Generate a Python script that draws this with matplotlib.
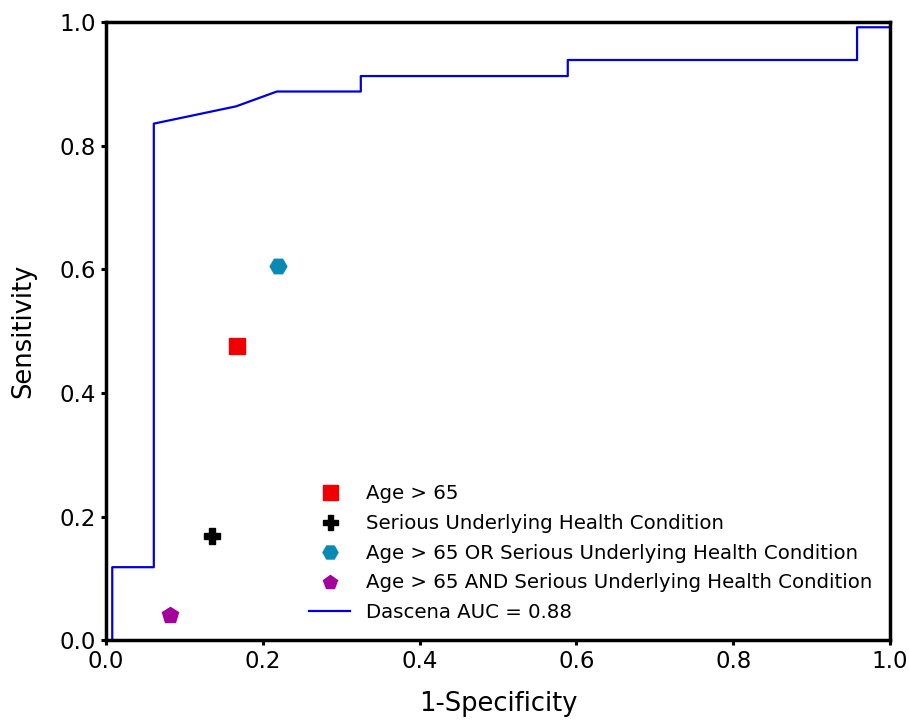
import matplotlib
matplotlib.use("Agg")
import matplotlib.pyplot as plt

# ROC curve of the Dascena model
roc_fpr = [0.008, 0.008, 0.061, 0.061, 0.166, 0.218, 0.325, 0.325, 0.589, 0.589, 0.958, 0.958, 1.0]
roc_tpr = [0.0, 0.118, 0.118, 0.836, 0.864, 0.888, 0.888, 0.913, 0.913, 0.939, 0.939, 0.992, 0.992]

# single-rule operating points
rule_names = ["Age > 65",
              "Serious Underlying Health Condition",
              "Age > 65 OR Serious Underlying Health Condition",
              "Age > 65 AND Serious Underlying Health Condition"]
rule_fpr = [0.167, 0.135, 0.219, 0.082]
rule_tpr = [0.476, 0.168, 0.605, 0.040]
rule_marker = ["s", "P", "H", "p"]
rule_color = ["#f00000", "#000000", "#0a8ab2", "#a4009c"]

fig = plt.figure(figsize=(9.09, 7.2), dpi=100)
ax = fig.add_axes([0.1166, 0.111, 0.8625, 0.858])

for name, x, y, m, c in zip(rule_names, rule_fpr, rule_tpr, rule_marker, rule_color):
    ax.plot(x, y, marker=m, color=c, linestyle="none", markersize=12, label=name)

ax.plot(roc_fpr, roc_tpr, color="#0000dd", linewidth=1.6, label="Dascena AUC = 0.88")

ax.set_xlim(0, 1)
ax.set_ylim(0, 1)
ax.set_xlabel("1-Specificity", fontsize=18.5, labelpad=13)
ax.set_ylabel("Sensitivity", fontsize=18.5, labelpad=17)
ax.tick_params(labelsize=16.5, width=2.2, length=3.5)
for s in ax.spines.values():
    s.set_linewidth(2.5)

ax.legend(loc="lower right", frameon=False, fontsize=14.2, handlelength=2.1,
          labelspacing=0.55, handletextpad=0.8, markerscale=0.9,
          bbox_to_anchor=(1.0, 0.0))

fig.savefig("out.png", dpi=100)
